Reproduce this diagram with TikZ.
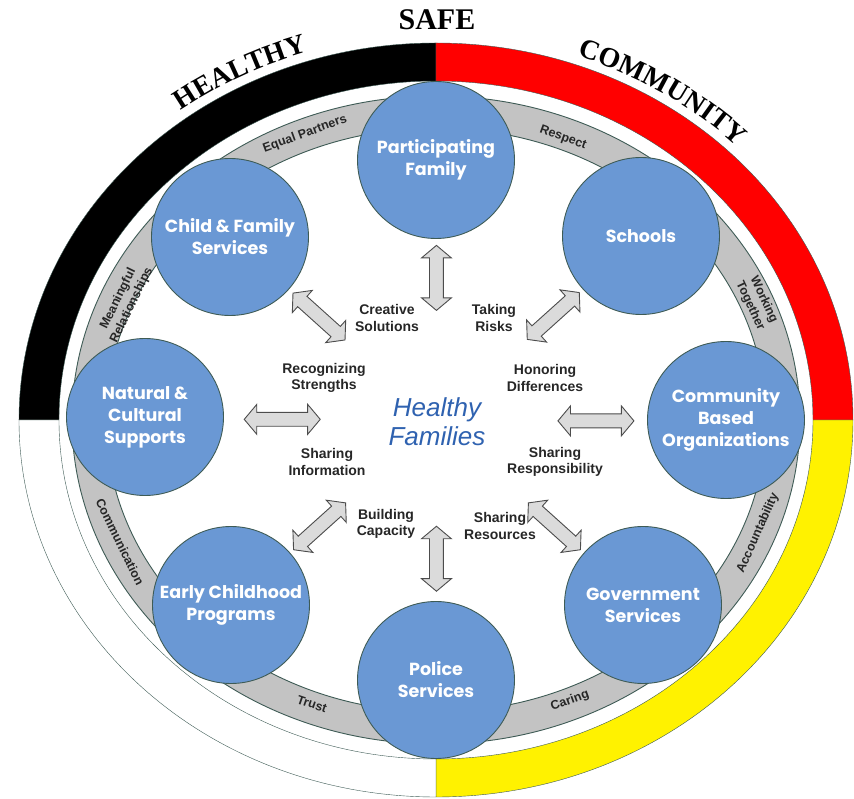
\documentclass[tikz,border=0pt]{standalone}
\usepackage{fontspec}
\setmainfont{Liberation Sans}
\newfontfamily\headfont{Liberation Serif}
\newfontfamily\circfont{Poppins}
\usepackage{xcolor}
\usepackage{tikz}
\usetikzlibrary{shapes.geometric, shapes.arrows, arrows, positioning, calc, decorations.text}
\definecolor{ringline}{HTML}{3E5B55}
\definecolor{bandgray}{HTML}{C3C3C3}
\definecolor{circblue}{HTML}{6A98D4}
\definecolor{famblue}{HTML}{2F62B0}
\tikzstyle{agency} = [circle, minimum size=157pt, inner sep=0pt, align=center, draw=ringline, line width=0.9pt, fill=circblue, text=white, font=\circfont\bfseries\fontsize{17.5}{22}\selectfont]
\tikzstyle{value} = [align=center, font=\bfseries\fontsize{14}{16.5}\selectfont, text=black!85]
\tikzstyle{bandtext} = [align=center, font=\bfseries\fontsize{12.5}{15}\selectfont, text=black!85, inner sep=0pt]
\tikzstyle{link} = [double arrow, draw=gray!60!black, fill=gray!28, line width=0.9pt, minimum height=70pt, minimum width=29pt, inner xsep=0pt, inner ysep=6.5pt, double arrow head extend=8pt, double arrow tip angle=100]
\tikzstyle{word} = [font=\headfont\bfseries\fontsize{28}{28}\selectfont]
\begin{document}
\begin{tikzpicture}[x=1pt, y=1pt]
\useasboundingbox (-436,-379) rectangle (418,420);
% Outer ring
\filldraw[draw=ringline, fill=black] (0,377) arc[start angle=90, end angle=180, x radius=417, y radius=377] -- (-377,0) arc[start angle=180, end angle=90, x radius=377, y radius=339] -- cycle;
\filldraw[draw=ringline, fill=red] (417,0) arc[start angle=0, end angle=90, x radius=417, y radius=377] -- (0,339) arc[start angle=90, end angle=0, x radius=377, y radius=339] -- cycle;
\filldraw[draw=ringline, fill=yellow] (0,-377) arc[start angle=270, end angle=360, x radius=417, y radius=377] -- (377,0) arc[start angle=0, end angle=-90, x radius=377, y radius=339] -- cycle;
\filldraw[draw=ringline, fill=white] (-417,0) arc[start angle=180, end angle=270, x radius=417, y radius=377] -- (0,-339) arc[start angle=270, end angle=180, x radius=377, y radius=339] -- cycle;
\node (safe) [word, anchor=base, font=\headfont\bfseries\fontsize{30}{30}\selectfont] at (1,390) {SAFE};
\path[decorate, decoration={text along path, text align=center, text={|\headfont\bfseries\fontsize{28}{28}\selectfont|HEALTHY}}] (145:427 and 386) arc[start angle=145, end angle=90, x radius=427, y radius=386];
\path[decorate, decoration={text along path, text align=center, text={|\headfont\bfseries\fontsize{28}{28}\selectfont|COMMUNITY}}] (85:427 and 386) arc[start angle=85, end angle=30, x radius=427, y radius=386];
% Values band
\filldraw[draw=ringline, fill=bandgray, line width=0.9pt, even odd rule] (0,0) ellipse[x radius=364, y radius=324] (0,0) ellipse[x radius=330, y radius=292];
\node (partners) [bandtext, rotate=20] at (-131,286) {Equal Partners};
\node (respect) [bandtext, rotate=-20] at (127,282) {Respect};
\node (meaning) [bandtext, rotate=64] at (-311,118) {Meaningful\\Relationships};
\node (together) [bandtext, rotate=-65] at (321,117) {Working\\Together};
\node (communic) [bandtext, rotate=-64] at (-316,-122) {Communication};
\node (account) [bandtext, rotate=66] at (322,-113) {Accountability};
\node (trust) [bandtext, rotate=-19] at (-124,-284) {Trust};
\node (caring) [bandtext, rotate=20] at (134,-281) {Caring};
% Partners
\node (family) [agency] at (0,260) {Participating\\Family};
\node (schools) [agency] at (205,184) {Schools};
\node (cbo) [agency] at (290,0) {Community\\Based\\Organizations};
\node (govt) [agency] at (207,-185) {Government\\Services};
\node (police) [agency] at (0,-260) {Police\\Services};
\node (early) [agency] at (-205,-185) {Early Childhood\\Programs};
\node (natural) [agency] at (-291,3) {Natural \&\\Cultural\\Supports};
\node (childfam) [agency] at (-206,183) {Child \& Family\\Services};
% Centre
\node (hf) [align=center, text=famblue, font=\itshape\fontsize{26}{29}\selectfont] at (1,-2) {Healthy\\Families};
\node (creative) [value] at (-49,102) {Creative\\Solutions};
\node (risks) [value] at (58,102) {Taking\\Risks};
\node (strengths) [value] at (-112,42) {Recognizing\\Strengths};
\node (differ) [value] at (109,42) {Honoring\\Differences};
\node (info) [value] at (-109,-42) {Sharing\\Information};
\node (respons) [value] at (119,-42) {Sharing\\Responsibility};
\node (capacity) [value] at (-50,-104) {Building\\Capacity};
\node (resources) [value] at (64,-106) {Sharing\\Resources};
% Links
\node (l1) [link, rotate=90, minimum height=65pt] at ($(hf)!0.55!(family)$) {};
\node (l2) [link, rotate=42] at ($(hf)!0.57!(schools)$) {};
\node (l3) [link, minimum height=76pt] at ($(hf)!0.55!(cbo)$) {};
\node (l4) [link, rotate=-42] at ($(hf)!0.57!(govt)$) {};
\node (l5) [link, rotate=90, minimum height=65pt] at ($(hf)!0.53!(police)$) {};
\node (l6) [link, rotate=42] at ($(hf)!0.57!(early)$) {};
\node (l7) [link, minimum height=76pt] at ($(hf)!0.53!(natural)$) {};
\node (l8) [link, rotate=-42] at ($(hf)!0.57!(childfam)$) {};
\end{tikzpicture}
\end{document}
